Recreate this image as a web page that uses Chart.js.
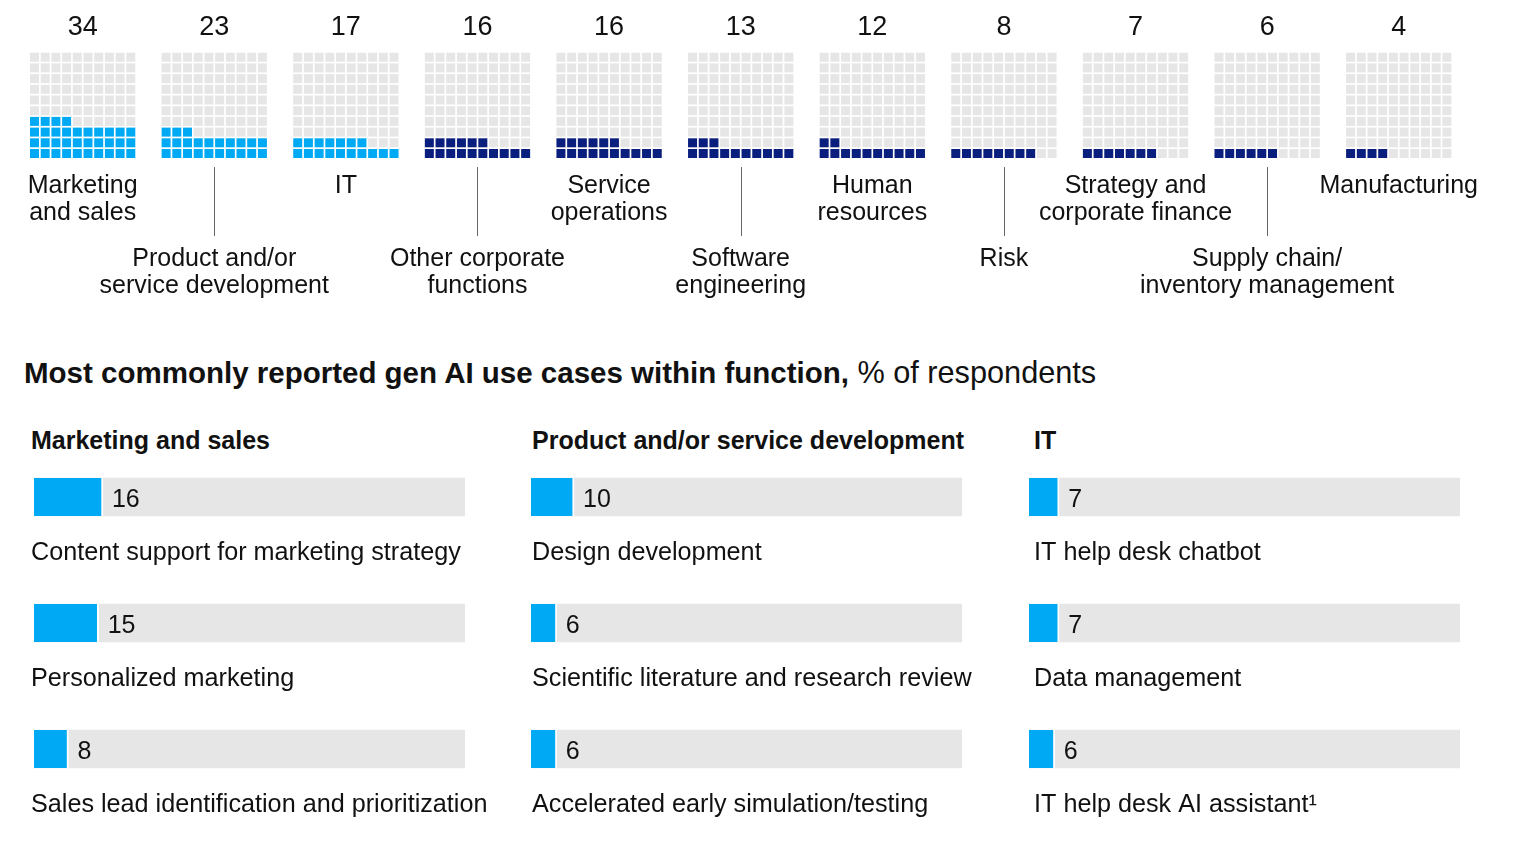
<!DOCTYPE html>
<html><head><meta charset="utf-8">
<script src="https://cdn.jsdelivr.net/npm/chart.js@4.4.1/dist/chart.umd.min.js"></script>
<style>
html,body{margin:0;padding:0;background:#fff;}
body{width:1514px;height:846px;position:relative;overflow:hidden;font-family:"Liberation Sans",Arial,sans-serif;color:#111;}
canvas{position:absolute;}
.h{position:absolute;white-space:nowrap;line-height:1;}
</style></head><body>
<canvas id="waffle" width="1514" height="320" style="left:0;top:0"></canvas>
<div class="h" id="title" style="left:24px;top:358px;font-size:30px;"><b style="font-size:29.5px">Most commonly reported gen AI use cases within function,</b> <span style="font-size:30.7px">% of respondents</span></div>
<div id="sections"></div>
<canvas id="c0" width="540" height="390"></canvas>
<canvas id="c1" width="540" height="390"></canvas>
<canvas id="c2" width="540" height="390"></canvas>
<script>
// ---- data ----
const functionLabels = [["Marketing","and sales"],["Product and/or","service development"],["IT"],["Other corporate","functions"],["Service","operations"],["Software","engineering"],["Human","resources"],["Risk"],["Strategy and","corporate finance"],["Supply chain/","inventory management"],["Manufacturing"]];
const functionValues = [34,23,17,16,16,13,12,8,7,6,4];
const highlighted = [true,true,true,false,false,false,false,false,false,false,false];

const sectionTitles = ["Marketing and sales","Product and/or service development","IT"];
const marketingCases = ["Content support for marketing strategy","Personalized marketing","Sales lead identification and prioritization"];
const marketingValues = [16,15,8];
const productCases = ["Design development","Scientific literature and research review","Accelerated early simulation/testing"];
const productValues = [10,6,6];
const itCases = ["IT help desk chatbot","Data management","IT help desk AI assistant\u00B9"];
const itValues = [7,7,6];
const SCALE_MAX = 100;

// ---- style / layout ----
const CYAN = '#00A9F4', NAVY = '#0A1F7D', GRAY = '#E6E6E6', TEXT = '#111';
const FONT = '"Liberation Sans", Arial, sans-serif';
const CELL_PITCH = 10.7, GROUP_STEP = 12.3, GRID_LEFT = 34.5, GRID_BOTTOM = 153.5, CELL_SIZE = 9;
const W_WIDTH = 1514, W_HEIGHT = 320;

// ---- waffle ----
const pts = [], cols = [];
functionValues.forEach((v, g) => {
  for (let k = 0; k < 100; k++) {
    pts.push({x: g * GROUP_STEP + (k % 10), y: Math.floor(k / 10)});
    cols.push(k < v ? (highlighted[g] ? CYAN : NAVY) : GRAY);
  }
});

const waffleLabels = {
  id: 'waffleLabels',
  afterDatasetsDraw(chart) {
    const ctx = chart.ctx, xs = chart.scales.x;
    ctx.save();
    ctx.fillStyle = TEXT;
    ctx.textAlign = 'center';
    ctx.textBaseline = 'middle';
    functionValues.forEach((v, g) => {
      const cx = xs.getPixelForValue(g * GROUP_STEP + 4.5);
      ctx.font = '27px ' + FONT;
      ctx.fillText(String(v), cx, 28);
      ctx.font = '25px ' + FONT;
      const low = g % 2 === 1;
      const y0 = low ? 259 : 186;
      functionLabels[g].forEach((line, i) => ctx.fillText(line, cx, y0 + i * 27));
      if (low) {
        ctx.strokeStyle = '#666';
        ctx.lineWidth = 1;
        ctx.beginPath();
        ctx.moveTo(Math.round(cx) + 0.5, 167);
        ctx.lineTo(Math.round(cx) + 0.5, 236);
        ctx.stroke();
      }
    });
    ctx.restore();
  }
};

new Chart(document.getElementById('waffle'), {
  type: 'scatter',
  data: {datasets: [{data: pts, backgroundColor: cols, pointStyle: 'rect', pointRadius: CELL_SIZE / Math.SQRT2, pointBorderWidth: 0, pointHoverRadius: CELL_SIZE / Math.SQRT2}]},
  options: {
    responsive: false, animation: false, events: [],
    layout: {padding: 0, autoPadding: false},
    scales: {
      x: {type: 'linear', display: false, bounds: 'data', min: -GRID_LEFT / CELL_PITCH, max: (W_WIDTH - GRID_LEFT) / CELL_PITCH},
      y: {type: 'linear', display: false, bounds: 'data', min: (GRID_BOTTOM - W_HEIGHT) / CELL_PITCH, max: GRID_BOTTOM / CELL_PITCH}
    },
    plugins: {legend: {display: false}, tooltip: {enabled: false}}
  },
  plugins: [waffleLabels]
});

// ---- bar panels ----
const trackLefts = [34, 531, 1029];
const textLefts = [31, 532, 1034];
const PANEL_TOP = 434;
const sec = document.getElementById('sections');
sectionTitles.forEach((t, i) => {
  const d = document.createElement('div');
  d.className = 'h';
  d.style.cssText = `left:${textLefts[i]}px;top:428px;font-size:25px;font-weight:bold;`;
  d.textContent = t;
  sec.appendChild(d);
});

function barLabels(idx) {
  return {
    id: 'barLabels' + idx,
    afterDatasetsDraw(chart) {
      const ctx = chart.ctx, meta = chart.getDatasetMeta(0), vals = chart.data.datasets[0].data;
      const offsetX = textLefts[idx] - trackLefts[idx];
      ctx.save();
      ctx.fillStyle = TEXT;
      ctx.textBaseline = 'middle';
      ctx.textAlign = 'left';
      meta.data.forEach((bar, i) => {
        ctx.font = '25px ' + FONT;
        ctx.fillText(String(vals[i]), bar.x + 9, bar.y + 3);
        ctx.font = '25.2px ' + FONT;
        ctx.fillText(chart.data.labels[i], chart.chartArea.left + offsetX, bar.y + 56);
      });
      ctx.restore();
    }
  };
}

function panel(idx, cases, values) {
  const cv = document.getElementById('c' + idx);
  cv.style.left = (trackLefts[idx] - 10) + 'px';
  cv.style.top = PANEL_TOP + 'px';
  new Chart(cv, {
    type: 'bar',
    data: {labels: cases, datasets: [
      {data: values, backgroundColor: CYAN, borderColor: '#fff', borderWidth: {top: 0, left: 0, bottom: 0, right: 2}, borderSkipped: false, barThickness: 38, grouped: false},
      {data: cases.map(() => SCALE_MAX), backgroundColor: GRAY, borderWidth: 0, barThickness: 38, grouped: false}
    ]},
    options: {
      indexAxis: 'y', responsive: false, animation: false, events: [],
      layout: {padding: {left: 10, right: 99, top: 0, bottom: 12}},
      scales: {x: {min: 0, max: SCALE_MAX, display: false}, y: {display: false}},
      plugins: {legend: {display: false}, tooltip: {enabled: false}}
    },
    plugins: [barLabels(idx)]
  });
}
panel(0, marketingCases, marketingValues);
panel(1, productCases, productValues);
panel(2, itCases, itValues);
</script>
</body></html>
